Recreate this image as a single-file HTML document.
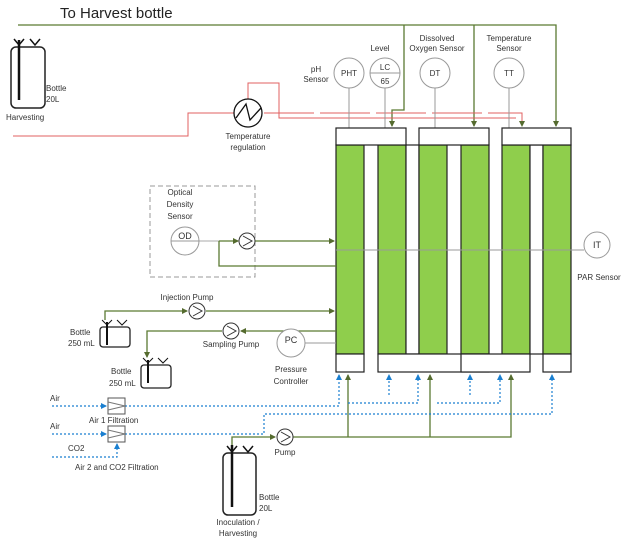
<!DOCTYPE html>
<html><head><meta charset="utf-8"><style>
body{margin:0;background:#fff}
text{font-family:"Liberation Sans",sans-serif;font-size:8px;fill:#333}
</style></head><body>
<svg width="622" height="544" viewBox="0 0 622 544" xmlns="http://www.w3.org/2000/svg">
<defs>
<marker id="g" markerWidth="6" markerHeight="6" refX="5" refY="3" orient="auto" markerUnits="userSpaceOnUse"><path d="M0,0L6,3L0,6z" fill="#556b2f"/></marker>
<marker id="b" markerWidth="6" markerHeight="6" refX="5" refY="3" orient="auto" markerUnits="userSpaceOnUse"><path d="M0,0L6,3L0,6z" fill="#1a7fd0"/></marker>
</defs>
<text x="60" y="18" style="font-size:15px;fill:#222">To Harvest bottle</text>
<!-- top green line -->
<g fill="none" stroke="#5a7a32" stroke-width="1.3">
<path d="M18,25H556V126" marker-end="url(#g)"/>
<path d="M404,25V110H392V126" marker-end="url(#g)"/>
<path d="M474,25V126" marker-end="url(#g)"/>
</g>
<!-- harvest bottle -->
<rect x="11" y="47" width="34" height="61" rx="5" fill="none" stroke="#222" stroke-width="1.5"/>
<line x1="19" y1="40" x2="19" y2="100" stroke="#111" stroke-width="2.5"/>
<path d="M14,39L19,45L24,39M30,39L35,45L40,39" fill="none" stroke="#111" stroke-width="1.5"/>
<text x="46" y="91">Bottle</text><text x="46" y="102">20L</text>
<text x="6" y="120">Harvesting</text>
<!-- red lines -->
<g fill="none" stroke="#e06060" stroke-width="1">
<path d="M13,136H188V113H234"/>
<path d="M248,99V83H279V118H516"/>
<path d="M264,113H516" stroke-dasharray="50,6"/>
<path d="M516,113H522V126" marker-end="url(#g)" stroke="#e06060"/>
</g>
<circle cx="248" cy="113" r="14" fill="#fff" stroke="#111" stroke-width="1.3"/>
<path d="M236,118L246,104L250,120L261,108" fill="none" stroke="#111" stroke-width="1.3"/>
<text x="248" y="139" text-anchor="middle">Temperature</text><text x="248" y="150" text-anchor="middle">regulation</text>
<!-- sensors -->
<g stroke="#999" stroke-width="1" fill="#fff">
<line x1="349" y1="73" x2="349" y2="128"/><line x1="385" y1="73" x2="385" y2="128"/>
<line x1="435" y1="73" x2="435" y2="128"/><line x1="509" y1="73" x2="509" y2="128"/>
<circle cx="349" cy="73" r="15"/><circle cx="385" cy="73" r="15"/><circle cx="435" cy="73" r="15"/><circle cx="509" cy="73" r="15"/>
<line x1="370" y1="73" x2="400" y2="73"/>
</g>
<g style="font-size:9px" text-anchor="middle">
<text x="349" y="76">PHT</text><text x="385" y="70">LC</text><text x="385" y="84">65</text>
<text x="435" y="76">DT</text><text x="509" y="76">TT</text>
</g>
<g text-anchor="middle" style="font-size:7px">
<text x="316" y="72">pH</text><text x="316" y="82">Sensor</text>
<text x="380" y="51">Level</text>
<text x="437" y="41">Dissolved</text><text x="437" y="51">Oxygen Sensor</text>
<text x="509" y="41">Temperature</text><text x="509" y="51">Sensor</text>
</g>
<!-- reactors -->
<g stroke="#222" stroke-width="1.2">
<rect x="336" y="145" width="28" height="209" fill="#8fce4c"/>
<rect x="378" y="145" width="28" height="209" fill="#8fce4c"/>
<rect x="406" y="145" width="13" height="209" fill="#fff"/>
<rect x="419" y="145" width="28" height="209" fill="#8fce4c"/>
<rect x="461" y="145" width="28" height="209" fill="#8fce4c"/>
<rect x="502" y="145" width="28" height="209" fill="#8fce4c"/>
<rect x="530" y="145" width="13" height="209" fill="#fff"/>
<rect x="543" y="145" width="28" height="209" fill="#8fce4c"/>
<rect x="336" y="128" width="70" height="17" fill="#fff"/>
<rect x="419" y="128" width="70" height="17" fill="#fff"/>
<rect x="502" y="128" width="69" height="17" fill="#fff"/>
<rect x="336" y="354" width="28" height="18" fill="#fff"/>
<rect x="378" y="354" width="111" height="18" fill="#fff"/>
<rect x="461" y="354" width="69" height="18" fill="#fff"/>
<rect x="543" y="354" width="28" height="18" fill="#fff"/>
</g>
<!-- OD box -->
<rect x="150" y="186" width="105" height="91" fill="none" stroke="#999" stroke-dasharray="5,3"/>
<text x="180" y="195" text-anchor="middle">Optical</text><text x="180" y="207" text-anchor="middle">Density</text><text x="180" y="219" text-anchor="middle">Sensor</text>
<line x1="171" y1="241" x2="232" y2="241" stroke="#aaa"/>
<circle cx="185" cy="241" r="14" fill="#fff" stroke="#999"/><line x1="171" y1="241" x2="199" y2="241" stroke="#999"/>
<text x="185" y="239" text-anchor="middle" style="font-size:9px">OD</text>
<g fill="none" stroke="#5a7a32" stroke-width="1.3">
<path d="M219,241H238" marker-end="url(#g)"/>
<path d="M255,241H334" marker-end="url(#g)"/>
<path d="M219,241V266H336"/>
<path d="M105,320V311H187" marker-end="url(#g)"/>
<path d="M206,311H334" marker-end="url(#g)"/>
<path d="M336,331H241" marker-end="url(#g)"/>
<path d="M222,331H147V357" marker-end="url(#g)"/>
<path d="M232,470V437H275" marker-end="url(#g)"/>
<path d="M293,437H511V375" marker-end="url(#g)"/>
<path d="M348,437V375" marker-end="url(#g)"/>
<path d="M430,437V375" marker-end="url(#g)"/>
</g>
<circle cx="247" cy="241" r="8" fill="#fff" stroke="#333"/><path d="M243,236L252,241L243,246" fill="none" stroke="#333"/>
<circle cx="197" cy="311" r="8" fill="#fff" stroke="#333"/><path d="M193,306L202,311L193,316" fill="none" stroke="#333"/>
<circle cx="231" cy="331" r="8" fill="#fff" stroke="#333"/><path d="M227,326L236,331L227,336" fill="none" stroke="#333"/>
<circle cx="285" cy="437" r="8" fill="#fff" stroke="#333"/><path d="M281,432L290,437L281,442" fill="none" stroke="#333"/>
<text x="187" y="300" text-anchor="middle">Injection Pump</text>
<text x="231" y="347" text-anchor="middle">Sampling Pump</text>
<text x="285" y="455" text-anchor="middle">Pump</text>
<!-- PAR -->
<line x1="336" y1="250" x2="584" y2="250" stroke="#999"/>
<circle cx="597" cy="245" r="13" fill="#fff" stroke="#999"/>
<text x="597" y="248" text-anchor="middle" style="font-size:9px">IT</text>
<text x="599" y="280" text-anchor="middle">PAR Sensor</text>
<!-- PC -->
<line x1="305" y1="343" x2="336" y2="343" stroke="#999"/>
<circle cx="291" cy="343" r="14" fill="#fff" stroke="#999"/>
<text x="291" y="343" text-anchor="middle" style="font-size:9px">PC</text>
<text x="291" y="372" text-anchor="middle">Pressure</text><text x="291" y="384" text-anchor="middle">Controller</text>
<!-- small bottles -->
<rect x="100" y="327" width="30" height="20" rx="3" fill="none" stroke="#222" stroke-width="1.3"/>
<line x1="107" y1="322" x2="107" y2="345" stroke="#111" stroke-width="2"/>
<path d="M102,320L107,325L112,320M117,320L122,325L127,320" fill="none" stroke="#111"/>
<text x="70" y="335">Bottle</text><text x="68" y="346">250 mL</text>
<rect x="141" y="365" width="30" height="23" rx="3" fill="none" stroke="#222" stroke-width="1.3"/>
<line x1="148" y1="360" x2="148" y2="383" stroke="#111" stroke-width="2"/>
<path d="M143,358L148,363L153,358M158,358L163,363L168,358" fill="none" stroke="#111"/>
<text x="111" y="374">Bottle</text><text x="109" y="386">250 mL</text>
<!-- big bottle -->
<rect x="223" y="453" width="33" height="62" rx="5" fill="none" stroke="#222" stroke-width="1.5"/>
<line x1="232" y1="445" x2="232" y2="507" stroke="#111" stroke-width="2.5"/>
<path d="M227,446L232,452L237,446M243,446L248,452L253,446" fill="none" stroke="#111" stroke-width="1.5"/>
<text x="259" y="500">Bottle</text><text x="259" y="511">20L</text>
<text x="238" y="525" text-anchor="middle">Inoculation /</text><text x="238" y="536" text-anchor="middle">Harvesting</text>
<!-- air lines -->
<g fill="none" stroke="#1a7fd0" stroke-width="1.2" stroke-dasharray="2,2">
<path d="M52,406H106" marker-end="url(#b)"/>
<path d="M125,406H339V375" marker-end="url(#b)"/>
<path d="M348,403H418V375" marker-end="url(#b)"/>
<path d="M437,403H500V375" marker-end="url(#b)"/>
<path d="M389,395V375" marker-end="url(#b)"/>
<path d="M470,395V375" marker-end="url(#b)"/>
<path d="M52,434H106" marker-end="url(#b)"/>
<path d="M125,434H264V414H552V375" marker-end="url(#b)"/>
<path d="M52,457H117V444" marker-end="url(#b)"/>
</g>
<g fill="#fff" stroke="#555">
<rect x="108" y="398" width="17" height="16"/><rect x="108" y="426" width="17" height="16"/>
</g>
<path d="M108,402L125,406L108,410M108,430L125,434L108,438" fill="none" stroke="#777"/>
<text x="50" y="401">Air</text><text x="89" y="423">Air 1 Filtration</text>
<text x="50" y="429">Air</text><text x="68" y="451">CO2</text>
<text x="75" y="470">Air 2 and CO2 Filtration</text>
</svg>
</body></html>
